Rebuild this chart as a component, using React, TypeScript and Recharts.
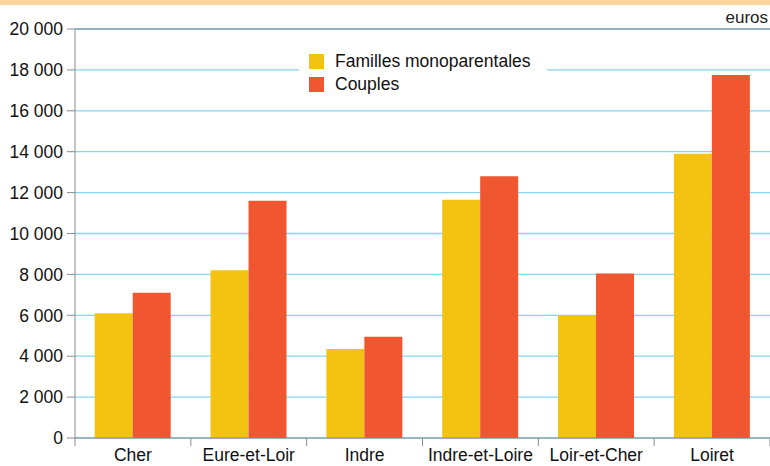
import { BarChart, Bar, XAxis, YAxis, CartesianGrid, ReferenceLine } from "recharts"

const departements = ["Cher", "Eure-et-Loir", "Indre", "Indre-et-Loire", "Loir-et-Cher", "Loiret"]
const famillesMono = [6100, 8200, 4350, 11650, 6000, 13900]
const couples = [7100, 11600, 4950, 12800, 8050, 17750]
const yTicks = [0, 2000, 4000, 6000, 8000, 10000, 12000, 14000, 16000, 18000, 20000]

const data = departements.map((d, i) => ({ dept: d, familles: famillesMono[i], couples: couples[i] }))

const W = 770
const H = 466
const Y_AXIS_W = 75
const BAND = (W - Y_AXIS_W) / departements.length
const AXIS = "#8a8a8a"
const YELLOW = "#F4C211"
const ORANGE = "#F05630"
const FONT = '"Liberation Sans", Arial, Helvetica, sans-serif'

const fmt = (v: number) => String(v).replace(/\B(?=(\d{3})+(?!\d))/g, " ")

function XTick(props: any) {
  const { x, y, payload, index } = props
  return (
    <g>
      <line x1={x - BAND / 2} y1={y} x2={x - BAND / 2} y2={y + 8} stroke={AXIS} />
      {index === departements.length - 1 && (
        <line x1={x + BAND / 2} y1={y} x2={x + BAND / 2} y2={y + 8} stroke={AXIS} />
      )}
      <text x={x} y={y + 23} textAnchor="middle" fontSize={17.5} fill="#111" fontFamily={FONT}>
        {payload.value}
      </text>
    </g>
  )
}

function LegendBox() {
  const items = [
    { label: "Familles monoparentales", color: YELLOW },
    { label: "Couples", color: ORANGE },
  ]
  return (
    <div
      style={{
        position: "absolute",
        left: 299,
        top: 48,
        width: 248,
        background: "#fff",
        padding: "2px 0 4px 10px",
        boxSizing: "border-box",
        fontFamily: FONT,
      }}
    >
      {items.map((it) => (
        <div key={it.label} style={{ display: "flex", alignItems: "center", height: 23 }}>
          <span style={{ width: 15, height: 15, background: it.color, display: "inline-block", marginRight: 11 }} />
          <span style={{ fontSize: 17.5, color: "#111" }}>{it.label}</span>
        </div>
      ))}
    </div>
  )
}

export default function App() {
  return (
    <div style={{ position: "absolute", left: 0, top: 0, width: W, height: H, background: "#fff", fontFamily: FONT }}>
      <div style={{ position: "absolute", left: 0, top: 0, width: W, height: 5, background: "#F9D49B" }} />
      <div style={{ position: "absolute", right: 2, top: 8, fontSize: 17, color: "#222" }}>euros</div>
      <BarChart
        width={W}
        height={H}
        data={data}
        margin={{ top: 29, right: 0, bottom: 0, left: 0 }}
        barCategoryGap="17%"
        barGap={0}
      >
        <CartesianGrid vertical={false} stroke="#84d6f4" strokeWidth={1.3} />
        <XAxis
          dataKey="dept"
          height={28}
          axisLine={{ stroke: AXIS }}
          tickLine={false}
          tickSize={0}
          tickMargin={0}
          interval={0}
          tick={<XTick />}
        />
        <YAxis
          width={Y_AXIS_W}
          domain={[0, 20000]}
          ticks={yTicks}
          tickFormatter={fmt}
          axisLine={{ stroke: AXIS }}
          tickLine={{ stroke: AXIS }}
          tickSize={8}
          tickMargin={4}
          tick={{ fill: "#111", fontSize: 17.5, fontFamily: FONT }}
        />
        <ReferenceLine y={20000} stroke={AXIS} />
        <Bar dataKey="familles" name="Familles monoparentales" fill={YELLOW} isAnimationActive={false} />
        <Bar dataKey="couples" name="Couples" fill={ORANGE} isAnimationActive={false} />
      </BarChart>
      <LegendBox />
    </div>
  )
}
